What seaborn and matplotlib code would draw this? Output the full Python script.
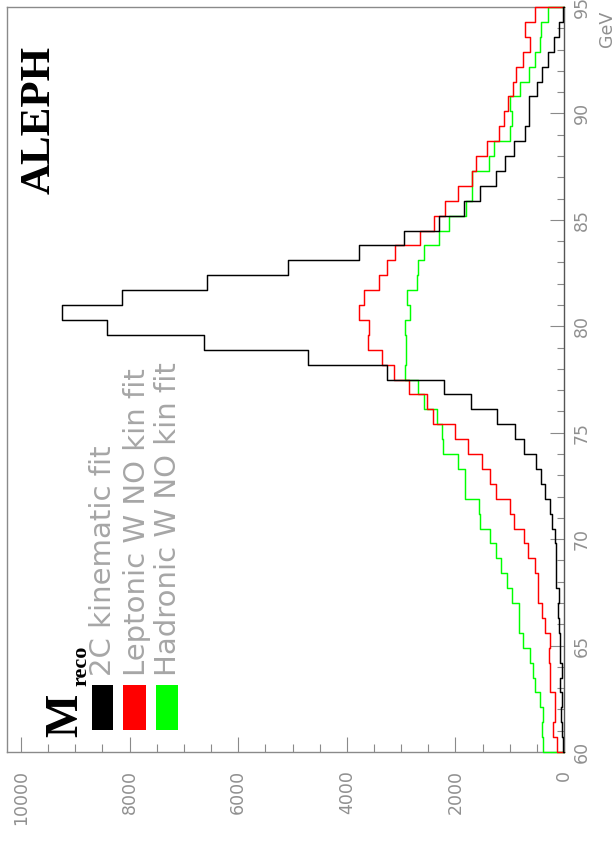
import numpy as np
import pandas as pd
import matplotlib
matplotlib.use("Agg")
import matplotlib.pyplot as plt
import seaborn as sns
from matplotlib.patches import Rectangle

# ---------------- data ----------------
bin_edges = list(np.linspace(60, 95, 51))          # 50 bins of 0.7 GeV
series_names = ["2C kinematic fit", "Leptonic W NO kin fit", "Hadronic W NO kin fit"]
series_colors = ["#000000", "#ff0000", "#00ff00"]

counts_2c = [15, 28, 52, 40, 65, 46, 65, 77, 89, 114,
             96, 144, 144, 150, 157, 230, 249, 341, 421, 507,
             741, 894, 1232, 1711, 2215, 3259, 4716, 6639, 8421, 9250,
             8144, 6577, 5084, 3782, 2953, 2307, 1847, 1552, 1244, 1078,
             925, 710, 640, 649, 494, 402, 298, 188, 96, 15]
counts_lep = [138, 200, 157, 157, 262, 267, 280, 249, 359, 402,
              483, 483, 525, 667, 728, 925, 986, 1250, 1355, 1508,
              1773, 2000, 2412, 2530, 2860, 3137, 3352, 3610, 3598, 3782,
              3690, 3413, 3259, 3106, 2645, 2400, 2190, 1958, 1693, 1613,
              1416, 1201, 1110, 1029, 937, 876, 752, 617, 710, 538]
counts_had = [384, 402, 384, 446, 525, 568, 630, 752, 833, 833,
              955, 1047, 1152, 1250, 1368, 1552, 1570, 1829, 1829, 1958,
              2227, 2240, 2337, 2570, 2690, 2922, 2909, 2903, 2922, 2842,
              2891, 2706, 2688, 2584, 2310, 2123, 1800, 1693, 1693, 1386,
              1281, 1000, 950, 999, 815, 649, 525, 446, 415, 298]

x_ticks = [0, 2000, 4000, 6000, 8000, 10000]
y_ticks = [60, 65, 70, 75, 80, 85, 90, 95]

# ---------------- figure ----------------
W, H = 615, 843
sns.set_style("white")
plt.rcParams["font.family"] = ["DejaVu Sans"]
fig = plt.figure(figsize=(W / 100, H / 100), dpi=100)

def fx(px):
    return px / W

def fy(py):
    return 1 - py / H

ax = fig.add_axes([fx(7), fy(752), fx(564) - fx(7), fy(7) - fy(752)])

centers = [0.5 * (a + b) for a, b in zip(bin_edges[:-1], bin_edges[1:])]
frames = []
for name, vals in zip(series_names, [counts_2c, counts_lep, counts_had]):
    frames.append(pd.DataFrame({"mass": centers, "n": vals, "series": name}))
df = pd.concat(frames, ignore_index=True)

lw = 1.05
for name, col in zip(series_names[::-1], series_colors[::-1]):
    sub = df[df["series"] == name]
    sns.histplot(data=sub, y="mass", weights="n", bins=bin_edges,
                 element="step", fill=False, color=col, linewidth=lw,
                 ax=ax, zorder=3)
    v = sub["n"].to_numpy()
    ax.plot([0, v[0]], [bin_edges[0], bin_edges[0]], color=col, lw=lw, zorder=3, clip_on=False)
    ax.plot([0, v[-1]], [bin_edges[-1], bin_edges[-1]], color=col, lw=lw, zorder=3, clip_on=False)

ax.set_xlim(10258, 0)
ax.set_ylim(60, 95)
ax.set_xlabel("")
ax.set_ylabel("")

frame_col = "#8a8a8a"
for s in ax.spines.values():
    s.set_color(frame_col)
    s.set_linewidth(1.0)
ax.spines["right"].set_color("#555555")

ax.set_xticks(x_ticks)
ax.set_xticks(np.arange(0, 10001, 500), minor=True)
ax.set_xticklabels([str(t) for t in x_ticks])
ax.yaxis.tick_right()
ax.set_yticks(y_ticks)
ax.set_yticks(np.arange(60, 96, 1), minor=True)
ax.set_yticklabels([str(t) for t in y_ticks])

lab_col = "#909090"
ax.tick_params(axis="x", which="major", direction="in", length=10.8, width=0.8,
               color=frame_col, pad=13, labelsize=12.5, labelcolor=lab_col,
               labelrotation=90, top=False, bottom=True)
ax.tick_params(axis="x", which="minor", direction="in", length=5.8, width=0.8,
               color=frame_col, top=False, bottom=True)
ax.tick_params(axis="y", which="major", direction="in", length=10, width=0.8,
               color=frame_col, pad=6.5, labelsize=12.5, labelcolor=lab_col,
               labelrotation=90, left=False, right=True)
ax.tick_params(axis="y", which="minor", direction="in", length=5, width=0.8,
               color=frame_col, left=False, right=True)
for lab in ax.get_xticklabels():
    lab.set_ha("center")
    lab.set_va("top")
for lab in ax.get_yticklabels():
    lab.set_va("center")
    lab.set_ha("left")

# unit label
fig.text(fx(607), fy(47), "GeV", rotation=90, ha="center", va="bottom",
         fontsize=12.5, color=lab_col)

# experiment label
fig.text(fx(40), fy(120), "ALEPH", rotation=90, ha="center", va="center",
         fontsize=31, fontweight="bold", family="Liberation Serif", color="black")

# legend header
fig.text(fx(66), fy(737), "M", rotation=90, ha="center", va="bottom",
         fontsize=33, fontweight="bold", family="Liberation Serif", color="black")
fig.text(fx(81), fy(686), "reco", rotation=90, ha="center", va="bottom",
         fontsize=16, fontweight="bold", family="Liberation Serif", color="black")

# legend boxes and entries
box_x = [(91.7, 113.3), (123, 146), (156, 178)]
text_x = [103, 137, 168]
for (x0, x1), tx, name, col in zip(box_x, text_x, series_names, series_colors):
    fig.patches.append(Rectangle((fx(x0), fy(730)), fx(x1) - fx(x0), fy(685) - fy(730),
                                 transform=fig.transFigure, facecolor=col,
                                 edgecolor="none", figure=fig))
    fig.text(fx(tx), fy(676), name, rotation=90, ha="center", va="bottom",
             fontsize=21, color="#a6a6a6")

fig.savefig("out.png", dpi=100)
